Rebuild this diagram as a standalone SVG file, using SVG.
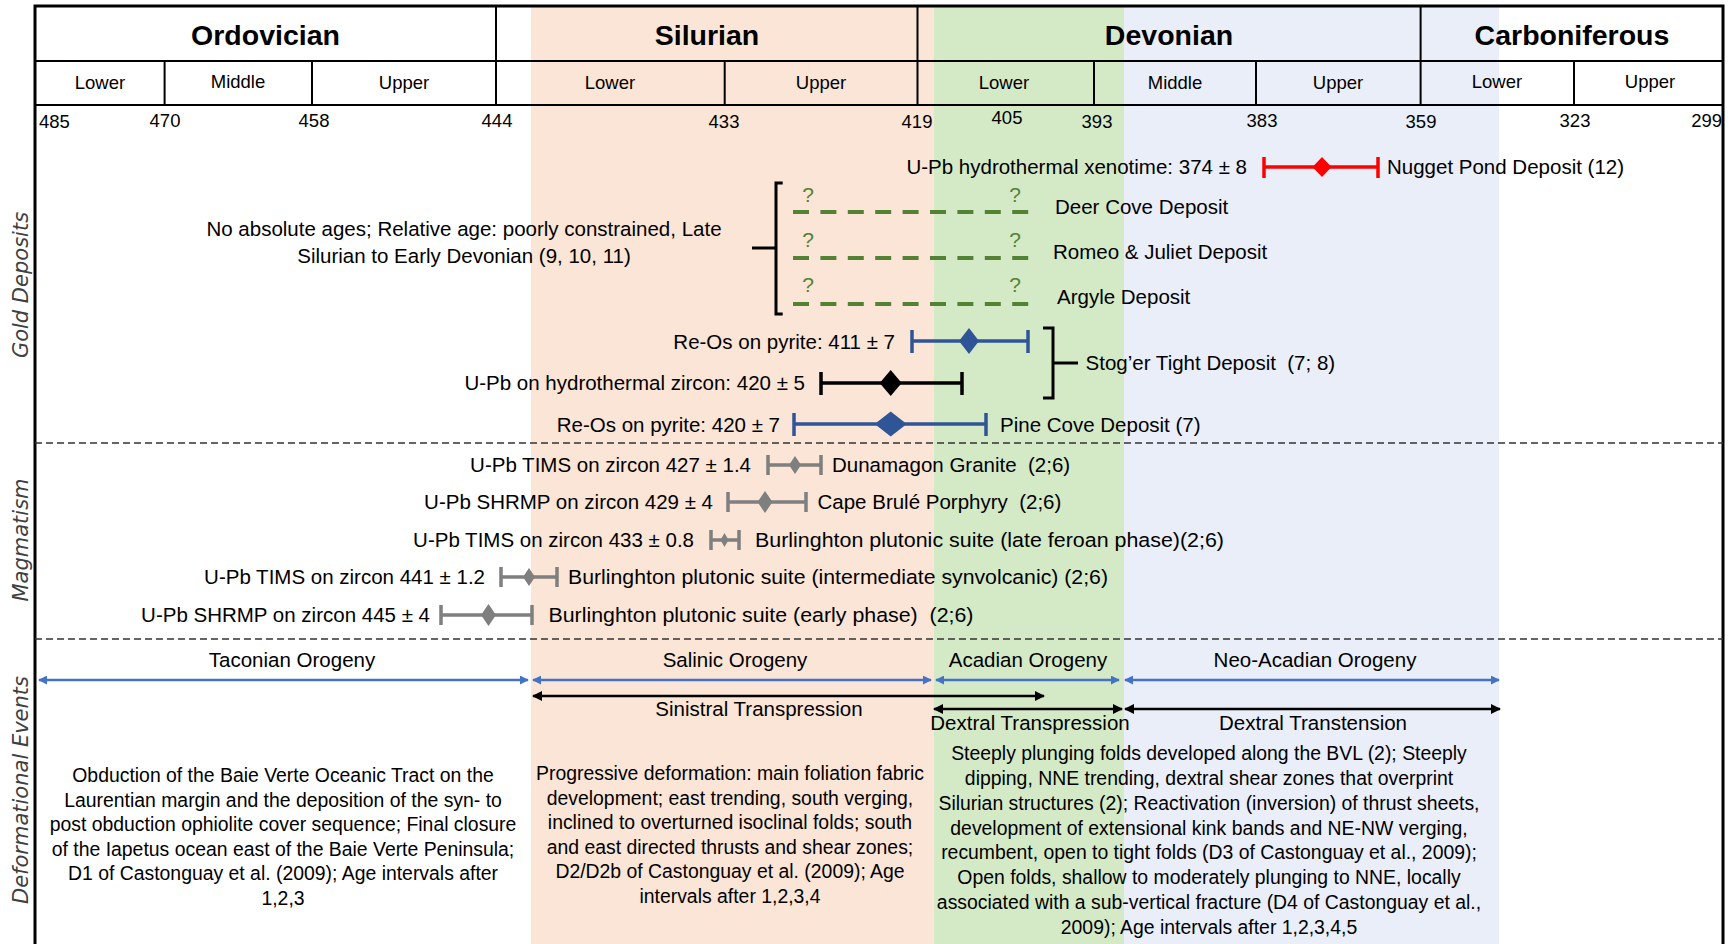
<svg xmlns="http://www.w3.org/2000/svg" width="1733" height="944" viewBox="0 0 1733 944">
<defs>
<style>
text{font-family:"Liberation Sans",Arial,sans-serif;fill:#000}
.hdr{font-size:28.5px;font-weight:bold;text-anchor:middle}
.sub{font-size:18.5px;text-anchor:middle}
.num{font-size:18.5px;text-anchor:middle}
.t{font-size:20.5px}
.e{text-anchor:end}
.m{text-anchor:middle}
.p{font-size:19.4px;text-anchor:middle}
.sec{font-family:"DejaVu Sans",sans-serif;font-style:italic;font-size:21px;fill:#404040;text-anchor:middle}
.q{fill:#548235;font-size:21px;text-anchor:middle}
.grid{stroke:#000;stroke-width:2;fill:none}
.sep{stroke:#333;stroke-width:1.6;stroke-dasharray:7 4;fill:none}
.gdash{stroke:#548235;stroke-width:4;stroke-dasharray:16 11.4;fill:none}
.br{stroke:#000;stroke-width:3;fill:none}
.red{stroke:#ff0000;stroke-width:3.5;fill:none}
.blu{stroke:#2f5597;stroke-width:3.5;fill:none}
.blk{stroke:#000;stroke-width:3.5;fill:none}
.gry{stroke:#7f7f7f;stroke-width:3.5;fill:none}
.ab{stroke:#4472c4;stroke-width:2.5;fill:none;marker-start:url(#hb);marker-end:url(#hb)}
.ak{stroke:#000;stroke-width:2.5;fill:none;marker-start:url(#hk);marker-end:url(#hk)}
</style>
<marker id="hb" viewBox="0 0 10 10" refX="9" refY="5" markerWidth="9" markerHeight="9" markerUnits="userSpaceOnUse" orient="auto-start-reverse"><path d="M0,0 L10,5 L0,10 z" fill="#4472c4"/></marker>
<marker id="hk" viewBox="0 0 10 10" refX="9" refY="5" markerWidth="10" markerHeight="10" markerUnits="userSpaceOnUse" orient="auto-start-reverse"><path d="M0,0 L10,5 L0,10 z" fill="#000"/></marker>
</defs>
<rect width="1733" height="944" fill="#fff"/>
<g id="bands">
<rect x="531" y="6" width="403" height="940" fill="#fbe5d6"/>
<rect x="934" y="6" width="190" height="940" fill="#d4eac7"/>
<rect x="1124" y="6" width="375" height="940" fill="#e9eef8"/>
</g>
<g id="timescale">
<line class="grid" x1="35" y1="61" x2="1723" y2="61"/>
<line class="grid" x1="35" y1="105" x2="1723" y2="105"/>
<path class="grid" d="M496,6V105M917.5,6V105M1420.6,6V105M164.6,61V105M312,61V105M724.7,61V105M1094,61V105M1256,61V105M1574,61V105"/>
<rect x="35" y="6" width="1688" height="950" fill="none" stroke="#000" stroke-width="3"/>
<text class="hdr" x="265.5" y="45">Ordovician</text>
<text class="hdr" x="707" y="45">Silurian</text>
<text class="hdr" x="1169" y="45">Devonian</text>
<text class="hdr" x="1572" y="45">Carboniferous</text>
<text class="sub" x="100" y="89">Lower</text>
<text class="sub" x="238" y="88">Middle</text>
<text class="sub" x="404" y="89">Upper</text>
<text class="sub" x="610" y="89">Lower</text>
<text class="sub" x="821" y="89">Upper</text>
<text class="sub" x="1004" y="89">Lower</text>
<text class="sub" x="1175" y="89">Middle</text>
<text class="sub" x="1338" y="89">Upper</text>
<text class="sub" x="1497" y="88">Lower</text>
<text class="sub" x="1650" y="88">Upper</text>
<text class="num" x="39" y="128" style="text-anchor:start">485</text>
<text class="num" x="165" y="127">470</text>
<text class="num" x="314" y="127">458</text>
<text class="num" x="497" y="127">444</text>
<text class="num" x="724" y="128">433</text>
<text class="num" x="917" y="128">419</text>
<text class="num" x="1007" y="124">405</text>
<text class="num" x="1097" y="128">393</text>
<text class="num" x="1262" y="127">383</text>
<text class="num" x="1421" y="128">359</text>
<text class="num" x="1575" y="127">323</text>
<text class="num" x="1722" y="127" style="text-anchor:end">299</text>
</g>
<g id="section-labels">
<text class="sec" transform="translate(28,285) rotate(-90)">Gold Deposits</text>
<text class="sec" transform="translate(28,540) rotate(-90)">Magmatism</text>
<text class="sec" transform="translate(28,790) rotate(-90)">Deformational Events</text>
<line class="sep" x1="35" y1="443" x2="1723" y2="443"/>
<line class="sep" x1="35" y1="639" x2="1723" y2="639"/>
</g>
<g id="nugget-pond">
<text class="t e" x="1247" y="174">U-Pb hydrothermal xenotime: 374 ± 8</text>
<path class="red" d="M1264,167H1378M1264,157V178M1378,157V178"/>
<path d="M1312.5,167L1322,157L1331.5,167L1322,177z" fill="#ff0000"/>
<text class="t" x="1387" y="174">Nugget Pond Deposit (12)</text>
</g>
<g id="undated-deposits">
<text class="t m" x="464" y="236">No absolute ages; Relative age: poorly constrained, Late</text>
<text class="t m" x="464" y="263">Silurian to Early Devonian (9, 10, 11)</text>
<path class="br" d="M782.7,183H776V314H782.7M752,248H776"/>
<line class="gdash" x1="793" y1="212" x2="1030" y2="212"/>
<line class="gdash" x1="793" y1="258" x2="1030" y2="258"/>
<line class="gdash" x1="793" y1="304" x2="1030" y2="304"/>
<text class="q" x="808" y="202">?</text>
<text class="q" x="1015" y="202">?</text>
<text class="q" x="808" y="247">?</text>
<text class="q" x="1015" y="247">?</text>
<text class="q" x="808" y="292">?</text>
<text class="q" x="1015" y="292">?</text>
<text class="t" x="1055" y="214">Deer Cove Deposit</text>
<text class="t" x="1053" y="259">Romeo &amp; Juliet Deposit</text>
<text class="t" x="1057" y="304">Argyle Deposit</text>
</g>
<g id="stoger-tight">
<text class="t e" x="895" y="349">Re-Os on pyrite: 411 ± 7</text>
<path class="blu" d="M912,341H1028M912,330V353M1028,330V353"/>
<path d="M959,341L969,328L979,341L969,354z" fill="#2f5597"/>
<text class="t e" x="805" y="390">U-Pb on hydrothermal zircon: 420 ± 5</text>
<path class="blk" d="M821,383H962M821,372V395M962,372V395"/>
<path d="M879.7,383L890.7,370L901.7,383L890.7,396z" fill="#000"/>
<path class="br" d="M1043,328H1053V398H1043M1053,363H1078"/>
<text class="t" x="1085.6" y="370" xml:space="preserve">Stog’er Tight Deposit  (7; 8)</text>
</g>
<g id="pine-cove">
<text class="t e" x="780" y="432">Re-Os on pyrite: 420 ± 7</text>
<path class="blu" d="M794,424H986M794,413V436M986,413V436"/>
<path d="M874.7,424L890.7,411.5L906.7,424L890.7,436.5z" fill="#2f5597"/>
<text class="t" x="1000" y="432">Pine Cove Deposit (7)</text>
</g>
<g id="dunamagon">
<text class="t e" x="751" y="472">U-Pb TIMS on zircon 427 ± 1.4</text>
<path class="gry" d="M768,465H821M768,455V475M821,455V475"/>
<path d="M789,465L795,456L801,465L795,474z" fill="#7f7f7f"/>
<text class="t" x="832" y="472" xml:space="preserve">Dunamagon Granite  (2;6)</text>
</g>
<g id="cape-brule">
<text class="t e" x="713" y="509">U-Pb SHRMP on zircon 429 ± 4</text>
<path class="gry" d="M728,502H806M728,492V512M806,492V512"/>
<path d="M757.5,502L765,491L772.5,502L765,513z" fill="#7f7f7f"/>
<text class="t" x="817.5" y="509" xml:space="preserve">Cape Brulé Porphyry  (2;6)</text>
</g>
<g id="burlington-late">
<text class="t e" x="694" y="547">U-Pb TIMS on zircon 433 ± 0.8</text>
<path class="gry" d="M711,540H739M711,530V550M739,530V550"/>
<path d="M720.5,540L724.5,533L728.5,540L724.5,547z" fill="#7f7f7f"/>
<text class="t" x="755" y="547" textLength="469" lengthAdjust="spacingAndGlyphs">Burlinghton plutonic suite (late feroan phase)(2;6)</text>
</g>
<g id="burlington-intermediate">
<text class="t e" x="485" y="584">U-Pb TIMS on zircon 441 ± 1.2</text>
<path class="gry" d="M501,577H557M501,567V587M557,567V587"/>
<path d="M523,577L529,568L535,577L529,586z" fill="#7f7f7f"/>
<text class="t" x="568" y="584" textLength="540" lengthAdjust="spacingAndGlyphs">Burlinghton plutonic suite (intermediate synvolcanic) (2;6)</text>
</g>
<g id="burlington-early">
<text class="t e" x="430" y="622">U-Pb SHRMP on zircon 445 ± 4</text>
<path class="gry" d="M441,615H532M441,605V625M532,605V625"/>
<path d="M481,615L488.5,604L496,615L488.5,626z" fill="#7f7f7f"/>
<text class="t" x="548.5" y="622" xml:space="preserve" textLength="425" lengthAdjust="spacingAndGlyphs">Burlinghton plutonic suite (early phase)  (2;6)</text>
</g>
<g id="connectors">
<line class="ab" x1="39" y1="680" x2="528" y2="680"/>
<line class="ab" x1="533" y1="680" x2="931" y2="680"/>
<line class="ab" x1="936" y1="680" x2="1119" y2="680"/>
<line class="ab" x1="1125" y1="680" x2="1499" y2="680"/>
<line class="ak" x1="533" y1="696" x2="1044" y2="696"/>
<line class="ak" x1="934" y1="709" x2="1122" y2="709"/>
<line class="ak" x1="1125" y1="709" x2="1500" y2="709"/>
</g>
<g id="taconian">
<text class="t m" x="292" y="667">Taconian Orogeny</text>
<text class="p" x="283" y="782">Obduction of the Baie Verte Oceanic Tract on the</text>
<text class="p" x="283" y="806.6">Laurentian margin and the deposition of the syn- to</text>
<text class="p" x="283" y="831.2">post obduction ophiolite cover sequence; Final closure</text>
<text class="p" x="283" y="855.8">of the Iapetus ocean east of the Baie Verte Peninsula;</text>
<text class="p" x="283" y="880.4">D1 of Castonguay et al. (2009); Age intervals after</text>
<text class="p" x="283" y="905">1,2,3</text>
</g>
<g id="salinic">
<text class="t m" x="735" y="667">Salinic Orogeny</text>
<text class="t m" x="759" y="716">Sinistral Transpression</text>
<text class="p" x="730" y="780">Progressive deformation: main foliation fabric</text>
<text class="p" x="730" y="804.6">development; east trending, south verging,</text>
<text class="p" x="730" y="829.2">inclined to overturned isoclinal folds; south</text>
<text class="p" x="730" y="853.8">and east directed thrusts and shear zones;</text>
<text class="p" x="730" y="878.4">D2/D2b of Castonguay et al. (2009); Age</text>
<text class="p" x="730" y="903">intervals after 1,2,3,4</text>
</g>
<g id="acadian">
<text class="t m" x="1028" y="667">Acadian Orogeny</text>
<text class="t m" x="1030" y="730">Dextral Transpression</text>
</g>
<g id="neo-acadian">
<text class="t m" x="1315" y="667">Neo-Acadian Orogeny</text>
<text class="t m" x="1313" y="730">Dextral Transtension</text>
<text class="p" x="1209" y="760">Steeply plunging folds developed along the BVL (2); Steeply</text>
<text class="p" x="1209" y="784.9">dipping, NNE trending, dextral shear zones that overprint</text>
<text class="p" x="1209" y="809.7">Silurian structures (2); Reactivation (inversion) of thrust sheets,</text>
<text class="p" x="1209" y="834.6">development of extensional kink bands and NE-NW verging,</text>
<text class="p" x="1209" y="859.4">recumbent, open to tight folds (D3 of Castonguay et al., 2009);</text>
<text class="p" x="1209" y="884.3">Open folds, shallow to moderately plunging to NNE, locally</text>
<text class="p" x="1209" y="909.2">associated with a sub-vertical fracture (D4 of Castonguay et al.,</text>
<text class="p" x="1209" y="934">2009); Age intervals after 1,2,3,4,5</text>
</g>
</svg>
